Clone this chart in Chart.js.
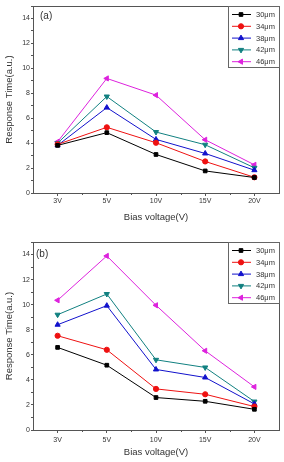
<!DOCTYPE html>
<html>
<head>
<meta charset="utf-8">
<script src="https://cdn.jsdelivr.net/npm/chart.js@4/dist/chart.umd.min.js"></script>
<style>
  html, body { margin: 0; padding: 0; background: #fff; }
  canvas { display: block; }
</style>
</head>
<body>
<canvas id="chartA" width="284" height="231"></canvas>
<canvas id="chartB" width="284" height="231"></canvas>
<script>
const categories = ['3V', '5V', '10V', '15V', '20V'];
const seriesNames = ['30\u03bcm', '34\u03bcm', '38\u03bcm', '42\u03bcm', '46\u03bcm'];

// panel (a)
const a30 = [3.82, 4.84, 3.09, 1.77, 1.24];
const a34 = [3.9, 5.27, 4.03, 2.53, 1.26];
const a38 = [3.82, 6.85, 4.3, 3.17, 1.83];
const a42 = [4.0, 7.74, 4.89, 3.87, 2.02];
const a46 = [4.11, 9.19, 7.85, 4.27, 2.26];

// panel (b)
const b30 = [6.59, 5.17, 2.59, 2.29, 1.65];
const b34 = [7.52, 6.4, 3.28, 2.85, 1.87];
const b38 = [8.4, 9.92, 4.83, 4.19, 2.08];
const b42 = [9.2, 10.85, 5.6, 4.99, 2.27];
const b46 = [10.35, 13.89, 9.95, 6.32, 3.44];

const colors = ['#000000', '#ee1111', '#1111cc', '#118080', '#dd22dd'];
const markers = [
  { style: 'rect', rot: 0, r: 2.6 },
  { style: 'circle', rot: 0, r: 2.6 },
  { style: 'triangle', rot: 0, r: 3 },
  { style: 'triangle', rot: 180, r: 3 },
  { style: 'triangle', rot: -90, r: 3 }
];

const font = '"Liberation Sans", Arial, sans-serif';

// frame, minor ticks, panel label, legend
const decorPlugin = {
  id: 'decor',
  afterDraw(chart, args, opts) {
    const ctx = chart.ctx;
    const area = chart.chartArea;
    const xs = chart.scales.x;
    ctx.save();
    ctx.strokeStyle = '#555';
    ctx.lineWidth = 1;
    ctx.strokeRect(Math.round(area.left) + 0.5, Math.round(area.top) + 0.5,
      Math.round(area.right - area.left), Math.round(area.bottom - area.top));

    // minor ticks between categories
    ctx.beginPath();
    for (let i = 0; i < categories.length - 1; i++) {
      const px = Math.round((xs.getPixelForValue(i) + xs.getPixelForValue(i + 1)) / 2) + 0.5;
      ctx.moveTo(px, area.bottom);
      ctx.lineTo(px, area.bottom + 2);
    }
    ctx.stroke();

    // panel label
    ctx.fillStyle = '#333';
    ctx.font = '10px ' + font;
    ctx.textBaseline = 'middle';
    ctx.fillText(opts.label, area.left + opts.labelDx, area.top + opts.labelDy);

    // legend box
    const boxW = 51, rowH = 11.8, boxH = 61;
    const bx = area.right - boxW, by = area.top;
    ctx.fillStyle = '#fff';
    ctx.fillRect(bx, by, boxW, boxH);
    ctx.strokeStyle = '#666';
    ctx.strokeRect(Math.round(bx) + 0.5, Math.round(by) + 0.5, boxW, boxH);
    ctx.font = '7.5px ' + font;
    chart.data.datasets.forEach((ds, i) => {
      const y = by + 8.5 + i * rowH;
      ctx.strokeStyle = ds.borderColor;
      ctx.beginPath();
      ctx.moveTo(bx + 4, y);
      ctx.lineTo(bx + 23, y);
      ctx.stroke();
      ctx.fillStyle = ds.borderColor;
      Chart.helpers.drawPoint(ctx, {
        pointStyle: ds.pointStyle, radius: ds.pointRadius, rotation: ds.pointRotation,
        borderWidth: 1
      }, bx + 13, y);
      ctx.fillStyle = '#333';
      ctx.fillText(ds.label, bx + 28, y + 0.5);
    });
    ctx.restore();
  }
};

function makeChart(id, label, values, lay) {
  const datasets = values.map((v, i) => ({
    label: seriesNames[i],
    data: v,
    borderColor: colors[i],
    backgroundColor: colors[i],
    borderWidth: 1,
    pointStyle: markers[i].style,
    pointRotation: markers[i].rot,
    pointRadius: markers[i].r,
    pointBorderWidth: 1,
    tension: 0
  }));
  return new Chart(document.getElementById(id), {
    type: 'line',
    data: { labels: categories, datasets: datasets },
    options: {
      responsive: false,
      devicePixelRatio: 1,
      animation: false,
      layout: { padding: { top: lay.top, right: 5, left: 0, bottom: 0 } },
      plugins: {
        legend: { display: false },
        tooltip: { enabled: false },
        decor: { label: label, labelDx: lay.labelDx, labelDy: lay.labelDy }
      },
      scales: {
        x: {
          offset: true,
          grid: { display: true, drawOnChartArea: false, offset: false, tickLength: 3, color: '#555' },
          border: { color: '#555' },
          ticks: { color: '#333', font: { size: 7, family: font }, padding: lay.xPad, maxRotation: 0 },
          title: {
            display: true, text: 'Bias voltage(V)', color: '#333',
            font: { size: 9.5, family: font }, padding: { top: 0, bottom: lay.titleBottom }
          },
          afterFit(s) { s.height = lay.xHeight; }
        },
        y: {
          min: 0, max: 15,
          grid: { display: true, drawOnChartArea: false, tickLength: 2, color: '#555' },
          border: { color: '#555' },
          ticks: {
            stepSize: 1, autoSkip: false, padding: 1, color: '#333',
            font: { size: 7, family: font },
            callback: v => (v % 2 === 0 && v <= 14) ? v : ''
          },
          title: {
            display: true, text: 'Response Time(a.u.)', color: '#333',
            font: { size: 9.5, family: font }, padding: { top: 4, bottom: 0 }
          },
          afterFit(s) { s.width = 33; }
        }
      }
    },
    plugins: [decorPlugin]
  });
}

makeChart('chartA', '(a)', [a30, a34, a38, a42, a46],
  { top: 6, xHeight: 38, xPad: 1, titleBottom: 8, labelDx: 7, labelDy: 10 });
makeChart('chartB', '(b)', [b30, b34, b38, b42, b46],
  { top: 11, xHeight: 32, xPad: 3, titleBottom: 3.5, labelDx: 3, labelDy: 12 });
</script>
</body>
</html>
